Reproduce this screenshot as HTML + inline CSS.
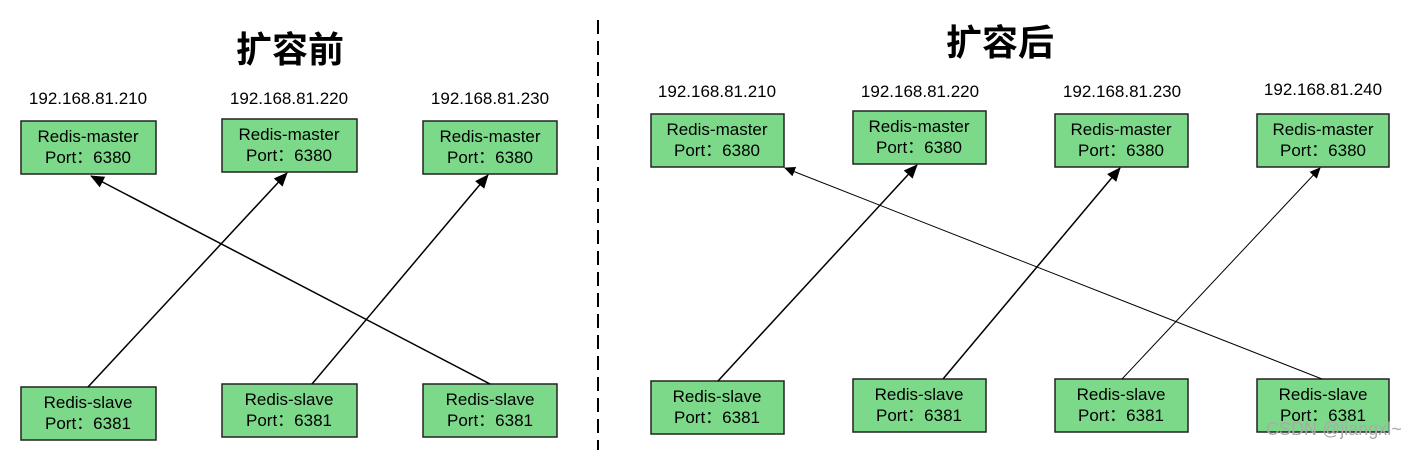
<!DOCTYPE html>
<html><head><meta charset="utf-8"><style>
body{margin:0;width:1424px;height:450px;background:#fff;overflow:hidden}
svg text{font-family:"Liberation Sans","Noto Sans CJK SC",sans-serif}
</style></head><body>
<svg width="1424" height="450" xmlns="http://www.w3.org/2000/svg">
<defs>
<marker id="a" markerWidth="14" markerHeight="12" refX="13" refY="6" orient="auto" markerUnits="userSpaceOnUse"><path d="M0,0 L14,6 L0,12 z" fill="#000"/></marker>
<marker id="b" markerWidth="11" markerHeight="10" refX="10" refY="5" orient="auto" markerUnits="userSpaceOnUse"><path d="M0,0 L11,5 L0,10 z" fill="#000"/></marker>
</defs>
<line x1="598" y1="20" x2="598" y2="450" stroke="#000" stroke-width="2" stroke-dasharray="14,7"/>
<text x="290" y="62" font-size="36" font-weight="bold" text-anchor="middle">扩容前</text>
<text x="1000" y="55" font-size="36" font-weight="bold" text-anchor="middle">扩容后</text>
<g font-size="17" text-anchor="middle" fill="#000">
<text x="88" y="104">192.168.81.210</text>
<text x="289" y="104">192.168.81.220</text>
<text x="490" y="104">192.168.81.230</text>
<text x="717" y="97">192.168.81.210</text>
<text x="920" y="97">192.168.81.220</text>
<text x="1122" y="97">192.168.81.230</text>
<text x="1323" y="95">192.168.81.240</text>
</g>
<g fill="#7dd98a" stroke="#222" stroke-width="1.5">
<rect x="21" y="121" width="135" height="53"/>
<rect x="222" y="119" width="135" height="53"/>
<rect x="423" y="121" width="134" height="53"/>
<rect x="21" y="387" width="135" height="53"/>
<rect x="222" y="384" width="135" height="53"/>
<rect x="423" y="384" width="134" height="53"/>
<rect x="651" y="114" width="133" height="53"/>
<rect x="853" y="111" width="133" height="53"/>
<rect x="1055" y="114" width="133" height="53"/>
<rect x="1257" y="114" width="132" height="53"/>
<rect x="651" y="381" width="133" height="53"/>
<rect x="853" y="379" width="133" height="53"/>
<rect x="1055" y="379" width="133" height="53"/>
<rect x="1257" y="379" width="132" height="53"/>
</g>
<g font-size="17" text-anchor="middle" fill="#000">
<text x="88" y="142">Redis-master</text><text x="88" y="163">Port：6380</text>
<text x="289" y="140">Redis-master</text><text x="289" y="161">Port：6380</text>
<text x="490" y="142">Redis-master</text><text x="490" y="163">Port：6380</text>
<text x="88" y="408">Redis-slave</text><text x="88" y="429">Port：6381</text>
<text x="289" y="405">Redis-slave</text><text x="289" y="426">Port：6381</text>
<text x="490" y="405">Redis-slave</text><text x="490" y="426">Port：6381</text>
<text x="717" y="135">Redis-master</text><text x="717" y="156">Port：6380</text>
<text x="919" y="132">Redis-master</text><text x="919" y="153">Port：6380</text>
<text x="1121" y="135">Redis-master</text><text x="1121" y="156">Port：6380</text>
<text x="1323" y="135">Redis-master</text><text x="1323" y="156">Port：6380</text>
<text x="717" y="402">Redis-slave</text><text x="717" y="423">Port：6381</text>
<text x="919" y="400">Redis-slave</text><text x="919" y="421">Port：6381</text>
<text x="1121" y="400">Redis-slave</text><text x="1121" y="421">Port：6381</text>
<text x="1323" y="400">Redis-slave</text><text x="1323" y="421">Port：6381</text>
</g>
<g stroke="#000" fill="none">
<line x1="490" y1="384" x2="91" y2="176" stroke-width="1.5" marker-end="url(#a)"/>
<line x1="88" y1="387" x2="287" y2="173" stroke-width="1.5" marker-end="url(#a)"/>
<line x1="312" y1="384" x2="488" y2="175" stroke-width="1.5" marker-end="url(#a)"/>
<line x1="1322" y1="379" x2="785" y2="168" stroke-width="1" marker-end="url(#b)"/>
<line x1="718" y1="381" x2="917" y2="165" stroke-width="1.5" marker-end="url(#a)"/>
<line x1="943" y1="379" x2="1120" y2="168" stroke-width="1.5" marker-end="url(#a)"/>
<line x1="1122" y1="379" x2="1320" y2="168" stroke-width="1" marker-end="url(#b)"/>
</g>
<text x="1266" y="435" font-size="18" fill="#aaa">CSDN @jiangxl~</text>
</svg>
</body></html>
